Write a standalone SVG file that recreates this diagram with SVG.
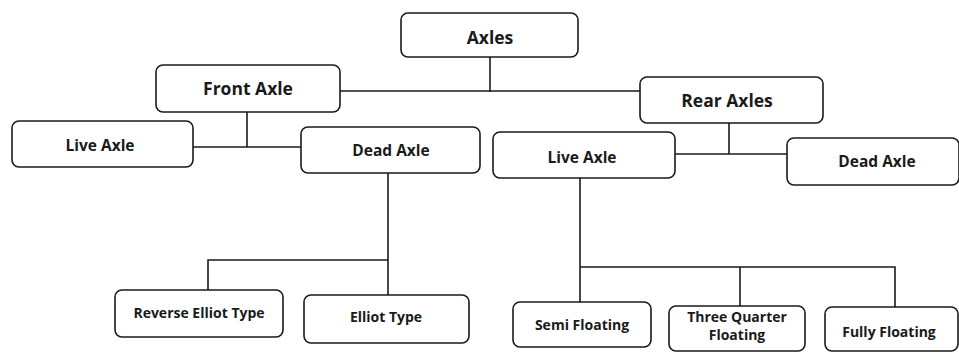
<svg xmlns="http://www.w3.org/2000/svg" width="959" height="352" viewBox="0 0 959 352">
  <style>
    .box { fill: #ffffff; stroke: #1a1a1a; stroke-width: 1.6; }
    .lbl { font-family: "Open Sans", "Liberation Sans", sans-serif; font-weight: 700; fill: #1a1a1a; text-anchor: middle; }
    .big { font-size: 17.5px; }
    .mid { font-size: 15.5px; }
    .sm { font-size: 14px; }
    .wire { fill: none; stroke: #1a1a1a; stroke-width: 1.6; }
  </style>
  <rect width="959" height="352" fill="#ffffff"/>

  <!-- connectors -->
  <g id="connectors" class="wire">
    <path d="M490 57 V92"/>
    <path d="M340 91 H640"/>
    <path d="M247 112 V147"/>
    <path d="M193 147 H301"/>
    <path d="M729 123 V154"/>
    <path d="M675 154 H787"/>
    <path d="M388 173 V295"/>
    <path d="M208 290 V260 H388"/>
    <path d="M580 178 V302"/>
    <path d="M580 267 H895 V307"/>
    <path d="M740 267 V306"/>
  </g>

  <g id="axles">
    <rect class="box" x="401" y="13" width="177" height="44" rx="7"/>
    <text class="lbl big" x="490" y="43.5">Axles</text>
  </g>
  <g id="front-axle">
    <rect class="box" x="156" y="65" width="184" height="47" rx="7"/>
    <text class="lbl big" x="248" y="95">Front Axle</text>
  </g>
  <g id="rear-axles">
    <rect class="box" x="640" y="77" width="183" height="46" rx="7"/>
    <text class="lbl big" x="727" y="106.5">Rear Axles</text>
  </g>
  <g id="front-live-axle">
    <rect class="box" x="12" y="121" width="181" height="46" rx="7"/>
    <text class="lbl mid" x="100" y="150.5">Live Axle</text>
  </g>
  <g id="front-dead-axle">
    <rect class="box" x="301" y="127" width="179" height="46" rx="7"/>
    <text class="lbl mid" x="391" y="156">Dead Axle</text>
  </g>
  <g id="rear-live-axle">
    <rect class="box" x="493" y="132" width="182" height="46" rx="7"/>
    <text class="lbl mid" x="582" y="163">Live Axle</text>
  </g>
  <g id="rear-dead-axle">
    <rect class="box" x="787" y="138" width="172" height="47" rx="7"/>
    <text class="lbl mid" x="877" y="167">Dead Axle</text>
  </g>
  <g id="reverse-elliot">
    <rect class="box" x="115" y="290" width="168" height="47" rx="7"/>
    <text class="lbl sm" x="199" y="318">Reverse Elliot Type</text>
  </g>
  <g id="elliot">
    <rect class="box" x="304" y="295" width="165" height="48" rx="7"/>
    <text class="lbl sm" x="386" y="322">Elliot Type</text>
  </g>
  <g id="semi-floating">
    <rect class="box" x="513" y="302" width="138" height="45" rx="7"/>
    <text class="lbl sm" x="582" y="330">Semi Floating</text>
  </g>
  <g id="three-quarter-floating">
    <rect class="box" x="669" y="306" width="136" height="45" rx="7"/>
    <text class="lbl sm" x="737" y="322">Three Quarter</text>
    <text class="lbl sm" x="737" y="340">Floating</text>
  </g>
  <g id="fully-floating">
    <rect class="box" x="825" y="307" width="133" height="44" rx="7"/>
    <text class="lbl sm" x="889" y="337">Fully Floating</text>
  </g>
</svg>
